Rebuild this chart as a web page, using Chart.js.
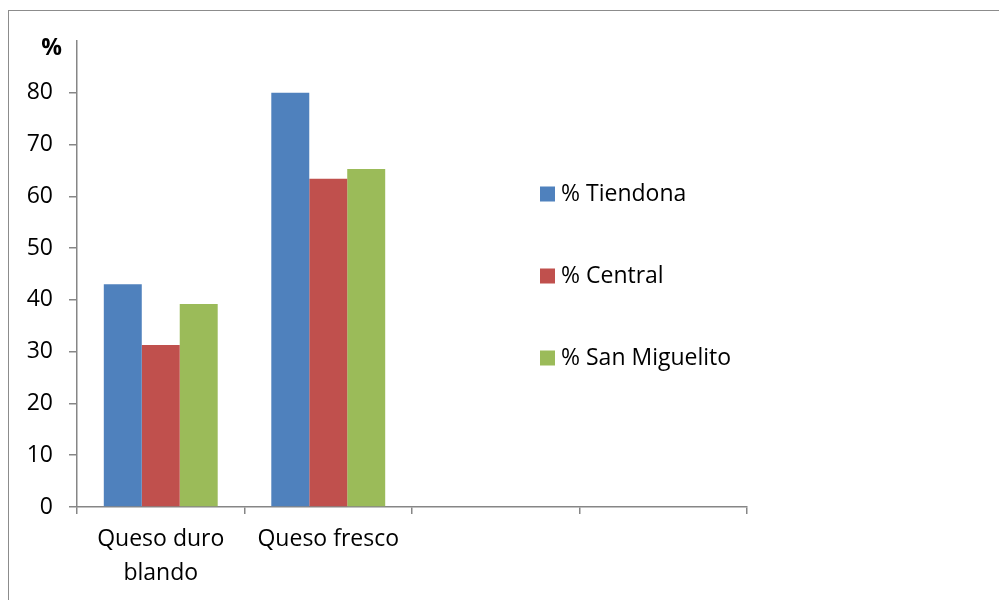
<!DOCTYPE html>
<html>
<head>
<meta charset="utf-8">
<script src="https://cdn.jsdelivr.net/npm/chart.js@4"></script>
<style>
    html, body { margin: 0; padding: 0; background: #fff; overflow: hidden; }
    #marco {
        position: absolute; left: 8px; top: 10px;
        width: 1100px; height: 700px;
        border: 1.5px solid #8c8c8c;
    }
    #contenedor { position: absolute; left: 0; top: 0; width: 999px; height: 600px; }
</style>
</head>
<body>
<div id="marco"></div>
<div id="contenedor"><canvas id="quesosChart"></canvas></div>
<script>
// Datos del gráfico
const categorias = [['Queso duro', 'blando'], 'Queso fresco', '', ''];
const tiendona = [43, 80, null, null];
const central = [31.3, 63.4, null, null];
const sanMiguelito = [39.2, 65.3, null, null];
const series = ['% Tiendona', '% Central', '% San Miguelito'];
const colores = ['#4F81BD', '#C0504D', '#9BBB59'];
const ticksY = [0, 10, 20, 30, 40, 50, 60, 70, 80];

const fuente = '"Open Sans", Lato, sans-serif';
const gris = '#868686';

// Leyenda dibujada dentro del área del gráfico
const leyendaInterna = {
    id: 'leyendaInterna',
    afterDraw(chart) {
        const ctx = chart.ctx;
        const area = chart.chartArea;
        const centro = (area.top + area.bottom) / 2 + 2;
        const paso = 82;
        ctx.save();
        ctx.font = '23px ' + fuente;
        ctx.textBaseline = 'middle';
        chart.data.datasets.forEach((ds, i) => {
            const y = centro + (i - 1) * paso;
            ctx.fillStyle = ds.backgroundColor;
            ctx.fillRect(540, y - 7.5, 15, 15);
            ctx.fillStyle = '#000';
            ctx.fillText(ds.label, 561, y);
        });
        // Título del eje Y
        const yScale = chart.scales.y;
        ctx.font = 'bold 23px ' + fuente;
        ctx.textAlign = 'right';
        ctx.fillText('%', area.left - 15, yScale.getPixelForValue(90) + 7);
        ctx.restore();
    }
};

const ctx = document.getElementById('quesosChart').getContext('2d');

new Chart(ctx, {
    type: 'bar',
    data: {
        labels: categorias,
        datasets: series.map((nombre, i) => ({
            label: nombre,
            data: [tiendona, central, sanMiguelito][i],
            backgroundColor: colores[i],
            borderWidth: 0,
            categoryPercentage: 0.68,
            barPercentage: 1
        }))
    },
    options: {
        responsive: true,
        maintainAspectRatio: false,
        animation: false,
        layout: {
            padding: { left: 0, top: 41, right: 252, bottom: 0 }
        },
        plugins: {
            legend: { display: false },
            tooltip: { enabled: false }
        },
        scales: {
            x: {
                offset: true,
                grid: {
                    offset: true,
                    drawOnChartArea: false,
                    color: gris,
                    lineWidth: 1.5,
                    tickLength: 7
                },
                border: { color: gris, width: 1.5 },
                ticks: {
                    color: '#000',
                    font: { family: fuente, size: 23, lineHeight: 1.45 },
                    padding: 9,
                    maxRotation: 0,
                    autoSkip: false
                },
                afterFit: scale => { scale.height = 93; }
            },
            y: {
                min: 0,
                max: 90,
                afterBuildTicks: scale => {
                    scale.ticks = ticksY.map(v => ({ value: v }));
                },
                grid: {
                    drawOnChartArea: false,
                    color: gris,
                    lineWidth: 1.5,
                    tickLength: 8
                },
                border: { color: gris, width: 1.5 },
                ticks: {
                    color: '#000',
                    font: { family: fuente, size: 23 },
                    padding: 16
                },
                afterFit: scale => { scale.width = 77; }
            }
        }
    },
    plugins: [leyendaInterna]
});
</script>
</body>
</html>
